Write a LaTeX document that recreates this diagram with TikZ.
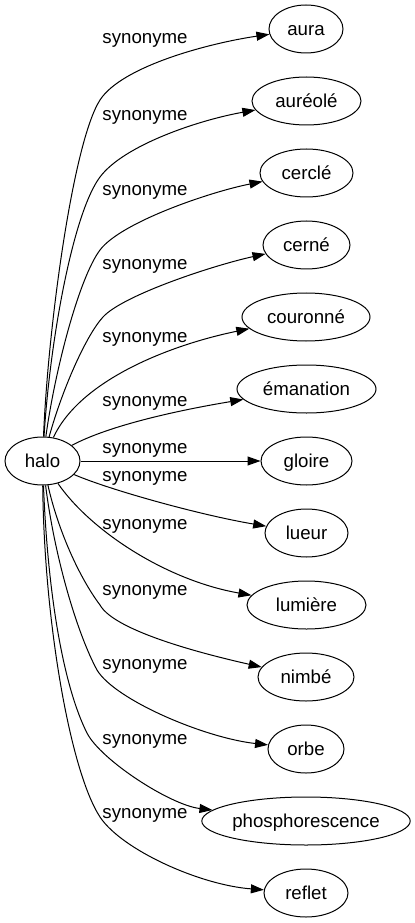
\documentclass[tikz,border=0pt]{standalone}
\usepackage{fontspec}
\setmainfont{Liberation Sans}
\usetikzlibrary{shapes.geometric,arrows.meta}
\begin{document}
\begin{tikzpicture}[x=0.75pt,y=-0.75pt,
  every node/.style={font=\fontsize{14pt}{16pt}\selectfont},
  ell/.style={ellipse,draw,line width=0.75pt,minimum height=36pt,minimum width=#1*0.75pt,inner sep=0pt,text height=11pt,text depth=1.8pt},
  lab/.style={inner sep=0pt},
  edge/.style={draw,line width=0.75pt,-{Triangle[length=9.75pt,width=6.75pt]}}]
\useasboundingbox (0,0) rectangle (414,923);
\node[ell=75]  (halo)      at (42.5,461) {halo};
\node[ell=74]  (aura)      at (306,29)   {aura};
\node[ell=109] (aureole)   at (306.5,101) {auréolé};
\node[ell=93]  (cercle)    at (306.5,173) {cerclé};
\node[ell=87]  (cerne)     at (306.5,245) {cerné};
\node[ell=128] (couronne)  at (306,317)  {couronné};
\node[ell=139] (emanation) at (306.5,389) {émanation};
\node[ell=91]  (gloire)    at (306.5,461) {gloire};
\node[ell=83]  (lueur)     at (306.5,533) {lueur};
\node[ell=119] (lumiere)   at (306.5,605) {lumière};
\node[ell=96]  (nimbe)     at (306,677)  {nimbé};
\node[ell=76]  (orbe)      at (306,749)  {orbe};
\node[ell=206] (phos)      at (306,821)  {phosphorescence};
\node[ell=84]  (reflet)    at (306,893)  {reflet};
\path[edge] (halo) .. controls (48,327) and (73,142) .. (100,100) .. controls (122,66) and (210,43) .. (aura);
\path[edge] (halo) .. controls (50,340) and (73,213) .. (100,177) .. controls (124,145) and (199,120) .. (aureole);
\path[edge] (halo) .. controls (55,370) and (79,278) .. (100,250) .. controls (121,222) and (211.5,191.5) .. (cercle);
\path[edge] (halo) .. controls (62,390) and (86,335.5) .. (103,317) .. controls (123,295) and (214.5,265) .. (cerne);
\path[edge] (halo) .. controls (80,380) and (170,345) .. (couronne);
\path[edge] (halo) .. controls (110,425) and (180,410) .. (emanation);
\path[edge] (halo) -- (gloire);
\path[edge] (halo) .. controls (110,490) and (200,515) .. (lueur);
\path[edge] (halo) .. controls (90,530) and (165,580) .. (lumiere);
\path[edge] (halo) .. controls (58,530) and (79,577) .. (100,605) .. controls (115,632) and (210,655.5) .. (nimbe);
\path[edge] (halo) .. controls (55,560) and (78,635) .. (97,670) .. controls (115,700) and (205,738) .. (orbe);
\path[edge] (halo) .. controls (48,600) and (64.5,688.5) .. (87,733) .. controls (100.5,759.7) and (170,805) .. (phos);
\path[edge] (halo) .. controls (44,620) and (70,771) .. (100,817) .. controls (122,850) and (200,885) .. (reflet);
\node[lab] (l1)  at (145,40)  {synonyme};
\node[lab] (l2)  at (145,117) {synonyme};
\node[lab] (l3)  at (145,192) {synonyme};
\node[lab] (l4)  at (145,266) {synonyme};
\node[lab] (l5)  at (145,339) {synonyme};
\node[lab] (l6)  at (145,403) {synonyme};
\node[lab] (l7)  at (145,450) {synonyme};
\node[lab] (l8)  at (145,478) {synonyme};
\node[lab] (l9)  at (145,526) {synonyme};
\node[lab] (l10) at (145,592) {synonyme};
\node[lab] (l11) at (145,666) {synonyme};
\node[lab] (l12) at (145,741) {synonyme};
\node[lab] (l13) at (145,815) {synonyme};
\end{tikzpicture}
\end{document}
